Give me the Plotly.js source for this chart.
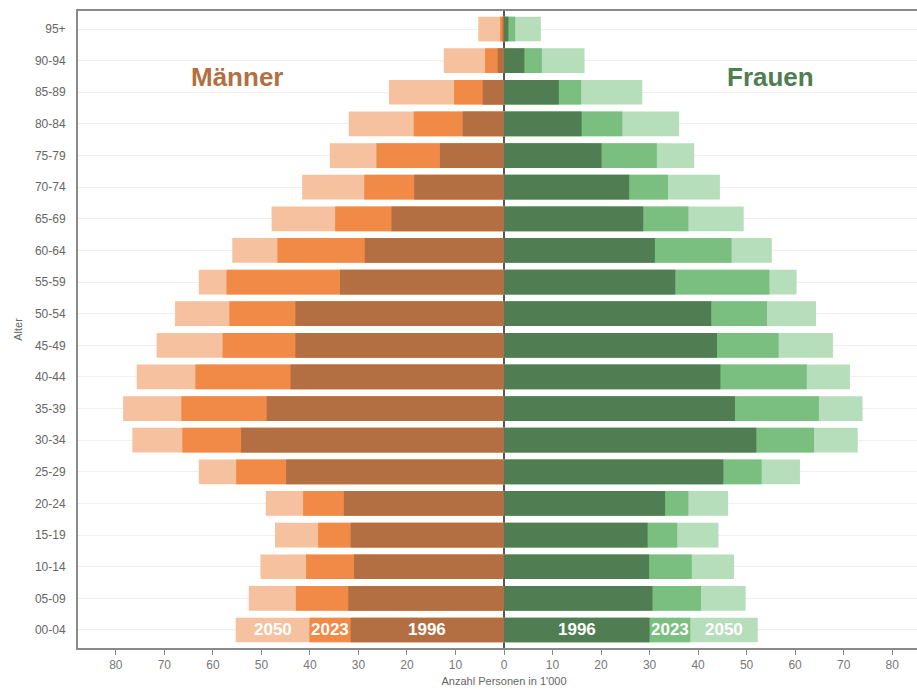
<!DOCTYPE html>
<html>
<head>
<meta charset="utf-8">
<script src="https://cdn.plot.ly/plotly-3.0.1.min.js"></script>
<style>
html,body{margin:0;padding:0;overflow:hidden;background:#fff;}
#chart{width:930px;height:692px;}
</style>
</head>
<body>
<div id="chart"></div>
<script>
const ageGroups = ["00-04","05-09","10-14","15-19","20-24","25-29","30-34","35-39","40-44","45-49","50-54","55-59","60-64","65-69","70-74","75-79","80-84","85-89","90-94","95+"];

const men1996 = [31.6,32.1,30.9,31.6,33.0,44.9,54.2,48.9,44.0,43.0,43.0,33.8,28.7,23.2,18.5,13.2,8.5,4.4,1.3,0.3];
const men2023 = [40.1,42.9,40.8,38.3,41.4,55.2,66.3,66.5,63.6,58.0,56.6,57.2,46.7,34.8,28.8,26.3,18.6,10.3,3.9,0.8];
const men2050 = [55.3,52.6,50.2,47.2,49.1,62.9,76.6,78.5,75.7,71.6,67.8,62.9,56.0,47.9,41.6,35.9,32.0,23.7,12.4,5.3];

const women1996 = [30.0,30.6,29.9,29.6,33.2,45.2,52.0,47.6,44.6,43.9,42.7,35.3,31.1,28.7,25.8,20.1,16.0,11.3,4.2,0.9];
const women2023 = [38.4,40.6,38.7,35.7,38.0,53.1,63.9,64.9,62.4,56.6,54.2,54.7,46.9,38.0,33.8,31.5,24.4,15.9,7.8,2.3];
const women2050 = [52.3,49.8,47.4,44.2,46.2,61.0,72.9,73.9,71.3,67.8,64.3,60.3,55.2,49.4,44.5,39.2,36.1,28.5,16.6,7.6];

const xTickVals = [-80,-70,-60,-50,-40,-30,-20,-10,0,10,20,30,40,50,60,70,80];
const xTickText = ["80","70","60","50","40","30","20","10","0","10","20","30","40","50","60","70","80"];

const yearLabels = ["2050","2023","1996"];

const colMen = {"1996":"#B36F42","2023":"#F08A46","2050":"#F6C19F"};
const colWomen = {"1996":"#507D52","2023":"#7ABE80","2050":"#B7DEBA"};

const yIdx = ageGroups.map((_, i) => i);
const neg = a => a.map(v => -v);

function bar(xs, color, name) {
  return {type:"bar", orientation:"h", x:xs, y:yIdx, width:0.78,
    marker:{color:color, line:{width:0}}, name:name, hoverinfo:"skip", showlegend:false};
}

const data = [
  bar(neg(men2050), colMen["2050"], "M 2050"),
  bar(neg(men2023), colMen["2023"], "M 2023"),
  bar(neg(men1996), colMen["1996"], "M 1996"),
  bar(women2050, colWomen["2050"], "F 2050"),
  bar(women2023, colWomen["2023"], "F 2023"),
  bar(women1996, colWomen["1996"], "F 1996")
];

// labels centred in each visible segment of the first age group
const mLabelX = [-(men2050[0]+men2023[0])/2, -(men2023[0]+men1996[0])/2, -men1996[0]/2];
const fLabelX = [(women2050[0]+women2023[0])/2, (women2023[0]+women1996[0])/2, women1996[0]/2];

const lblFont = {family:"Liberation Sans, Arial, sans-serif", size:17, color:"#ffffff"};
const annotations = [];
yearLabels.forEach((y, i) => {
  annotations.push({x:mLabelX[i], y:0, xref:"x", yref:"y", text:"<b>"+y+"</b>", showarrow:false, font:lblFont});
  annotations.push({x:fLabelX[i], y:0, xref:"x", yref:"y", text:"<b>"+y+"</b>", showarrow:false, font:lblFont});
});
annotations.push({x:-55, y:17.47, xref:"x", yref:"y", text:"<b>Männer</b>", showarrow:false,
  font:{family:"Liberation Sans, Arial, sans-serif", size:26, color:"#B36F42"}});
annotations.push({x:55, y:17.47, xref:"x", yref:"y", text:"<b>Frauen</b>", showarrow:false,
  font:{family:"Liberation Sans, Arial, sans-serif", size:26, color:"#507D52"}});

const layout = {
  width:930, height:692,
  margin:{l:78, r:0, t:11, b:44},
  paper_bgcolor:"#ffffff", plot_bgcolor:"#ffffff",
  barmode:"overlay", bargap:0.22,
  font:{family:"Liberation Sans, Arial, sans-serif", size:12, color:"#666666"},
  xaxis:{range:[-87.8,87.8], tickvals:xTickVals, ticktext:xTickText, showgrid:false,
    zeroline:true, zerolinecolor:"#555555", zerolinewidth:2,
    showline:true, linecolor:"#8a8a8a", linewidth:2, mirror:true,
    ticks:"outside", ticklen:5, tickwidth:1, tickcolor:"#8a8a8a",
    tickfont:{size:12, color:"#777777"},
    title:{text:"Anzahl Personen in 1'000", font:{size:11, color:"#666666"}, standoff:6},
    fixedrange:true},
  yaxis:{range:[-0.57,19.57], tickvals:yIdx, ticktext:ageGroups, showgrid:true, gridcolor:"#efefef", gridwidth:1,
    zeroline:false, showline:true, linecolor:"#8a8a8a", linewidth:2, mirror:true,
    ticks:"", ticklabelstandoff:8,
    tickfont:{size:12, color:"#666666"},
    title:{text:"Alter", font:{size:11, color:"#666666"}, standoff:10},
    fixedrange:true},
  annotations:annotations
};

Plotly.newPlot("chart", data, layout, {displayModeBar:false, staticPlot:true});
</script>
</body>
</html>
